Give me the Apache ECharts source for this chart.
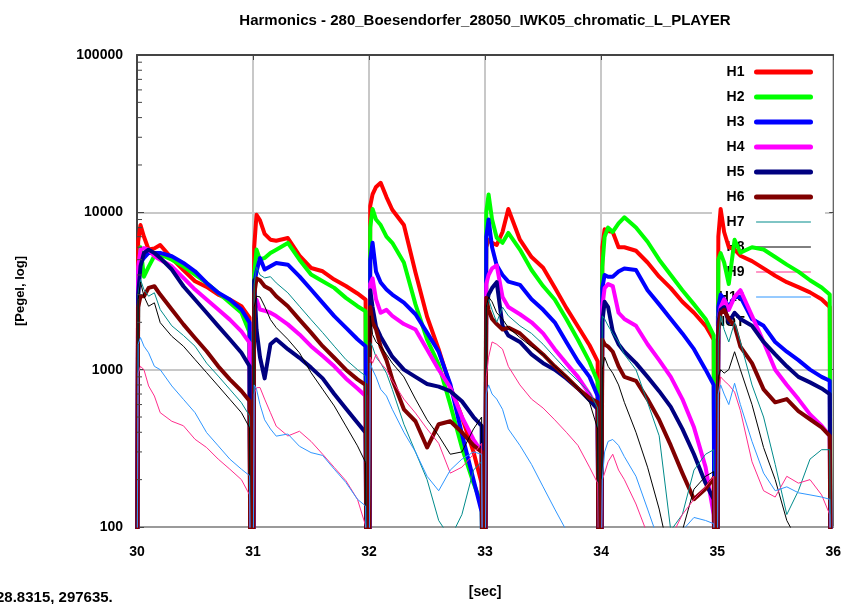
<!DOCTYPE html>
<html>
<head>
<meta charset="utf-8">
<script src="https://cdn.jsdelivr.net/npm/echarts/dist/echarts.min.js"></script>
<style>
  html, body { margin: 0; padding: 0; background: #ffffff; }
  #chart { width: 844px; height: 604px; }
</style>
</head>
<body>
<div id="chart"></div>
<script>
// Harmonic levels of six consecutive chromatic notes (one per second).
const chartTitle = 'Harmonics - 280_Boesendorfer_28050_IWK05_chromatic_L_PLAYER';
const cursorReadout = '28.8315, 297635.';
const noteStarts = [30, 31, 32, 33, 34, 35];
// sample times within each note, seconds after the note onset
const offsets = [0.01, 0.03, 0.06, 0.1, 0.15, 0.2, 0.3, 0.4, 0.5, 0.6, 0.7, 0.8, 0.9, 0.97];
const onsetOffset = 0.002;
const releaseOffset = 0.976;
const silenceLevel = 60;
const xTicks = [30, 31, 32, 33, 34, 35, 36];
const yTicks = [100, 1000, 10000, 100000];
const minorTickValues = [200, 300, 400, 500, 600, 700, 800, 900,
  2000, 3000, 4000, 5000, 6000, 7000, 8000, 9000,
  20000, 30000, 40000, 50000, 60000, 70000, 80000, 90000];

// one row per note, one value per offset
const h1 = [
  [6500, 8300, 7000, 5800, 5900, 6200, 5100, 4300, 3650, 3360, 3000, 2790, 2530, 2140],
  [6000, 9660, 8900, 7300, 6700, 6600, 6870, 5300, 4430, 4220, 3740, 3400, 3050, 2790],
  [11000, 13000, 14500, 15400, 12500, 10390, 8300, 4140, 2170, 1345, 780, 500, 300, 190],
  [6000, 6700, 6400, 6200, 7500, 10500, 6700, 5200, 4450, 3330, 2470, 1880, 1430, 1130],
  [6000, 7800, 7600, 7500, 6000, 6000, 5700, 4800, 3900, 3300, 2700, 2300, 1900, 1550],
  [7000, 10500, 7500, 6000, 5800, 5300, 4900, 4400, 3950, 3600, 3350, 3100, 2800, 2500]
];
const h2 = [
  [3500, 6000, 3900, 4500, 5300, 5400, 5000, 4540, 4020, 3560, 3080, 2660, 2300, 1720],
  [4000, 5800, 5000, 5130, 5520, 5790, 6390, 5000, 4020, 3650, 3310, 2860, 2530, 2350],
  [8000, 10500, 9000, 8300, 7000, 6400, 4800, 2600, 1550, 1080, 600, 320, 190, 140],
  [10000, 13000, 9000, 6900, 6400, 7400, 5800, 4300, 3400, 2790, 2100, 1550, 1120, 840],
  [4500, 7000, 8000, 7500, 8500, 9300, 8000, 6500, 5000, 4000, 3200, 2600, 2100, 1650],
  [5000, 5500, 4800, 3500, 6700, 5550, 6000, 5800, 5200, 4650, 4200, 3700, 3330, 3000]
];
const h3 = [
  [4200, 4770, 5130, 5520, 5520, 5520, 5260, 4770, 4220, 3560, 3080, 2790, 2410, 1990],
  [3500, 4200, 5130, 4330, 4540, 4770, 4650, 3920, 3230, 2660, 2190, 1850, 1560, 1410],
  [5000, 6400, 4200, 3580, 3230, 3000, 2670, 2250, 1720, 1300, 810, 390, 200, 125],
  [7000, 9000, 6000, 4600, 4000, 3630, 3460, 2800, 2400, 2000, 1500, 1130, 900, 680],
  [3300, 4000, 3900, 3900, 4200, 4400, 4300, 3200, 2600, 2100, 1700, 1350, 1000, 800],
  [2500, 3000, 2800, 2500, 2900, 2900, 2100, 1900, 1500, 1300, 1150, 1000, 900, 850]
];
const h4 = [
  [4500, 5790, 5930, 5790, 5260, 5000, 4540, 3830, 3230, 2790, 2410, 2080, 1750, 1480],
  [2500, 2790, 2410, 2370, 2300, 2190, 1940, 1675, 1410, 1220, 1050, 880, 760, 680],
  [3500, 3800, 2800, 2300, 2400, 2200, 1950, 1800, 1345, 1000, 770, 500, 360, 300],
  [3500, 4000, 4400, 4600, 2900, 2500, 2250, 2000, 1700, 1350, 1100, 900, 700, 560],
  [2500, 3300, 3500, 3400, 2300, 2100, 1900, 1450, 1150, 900, 650, 430, 240, 120],
  [2000, 2500, 2800, 2400, 2900, 3200, 2200, 1500, 1000, 800, 650, 520, 440, 380]
];
const h5 = [
  [3000, 4540, 5520, 5790, 5520, 5130, 4330, 3390, 2790, 2300, 1890, 1560, 1280, 1050],
  [3700, 1800, 1200, 880, 1450, 1560, 1350, 1190, 1030, 880, 700, 566, 460, 398],
  [3200, 2500, 1880, 1620, 1400, 1210, 1000, 900, 810, 780, 730, 630, 500, 440],
  [2500, 3000, 3300, 3600, 1900, 1650, 1500, 1250, 1100, 1000, 880, 760, 640, 560],
  [2000, 2700, 2500, 1750, 1450, 1300, 1100, 900, 730, 580, 420, 290, 190, 150],
  [2000, 2400, 2500, 2000, 2300, 2100, 1900, 1500, 1250, 1050, 900, 830, 760, 700]
];
const h6 = [
  [2500, 2930, 2930, 3310, 3390, 3000, 2410, 1940, 1590, 1310, 1050, 868, 732, 633],
  [3000, 3800, 3700, 3390, 3230, 2930, 2530, 2080, 1720, 1410, 1190, 1000, 868, 800],
  [2500, 2000, 1800, 1400, 1150, 870, 560, 470, 320, 450, 470, 400, 330, 300],
  [2870, 2400, 2100, 1950, 1800, 1850, 1700, 1450, 1250, 1050, 900, 760, 660, 620],
  [1550, 1450, 1400, 1300, 1050, 900, 850, 650, 480, 330, 220, 150, 175, 205],
  [1800, 2300, 2400, 2100, 1900, 1400, 1100, 750, 620, 650, 545, 484, 430, 380]
];
const h7 = [
  [3000, 3740, 3230, 2930, 3080, 2410, 1900, 1650, 1410, 1100, 911, 750, 617, 508],
  [3500, 4500, 4000, 3830, 3900, 3560, 3080, 2530, 2080, 1720, 1410, 1160, 1000, 911],
  [1500, 1400, 1200, 1100, 950, 750, 450, 300, 200, 110, 85, 120, 230, 260],
  [2500, 2800, 2400, 2000, 2500, 2200, 1900, 1700, 1450, 1200, 1000, 850, 720, 570],
  [2200, 2100, 1900, 1700, 1500, 1250, 1000, 620, 380, 95, 120, 230, 290, 310],
  [1500, 2200, 1800, 1500, 2000, 1500, 800, 500, 250, 120, 170, 270, 310, 310]
];
const h8 = [
  [2800, 3600, 2930, 2530, 2660, 1990, 1630, 1410, 1160, 957, 788, 648, 533, 428],
  [2500, 2930, 2900, 2530, 2080, 1850, 1560, 1280, 957, 750, 588, 439, 328, 257],
  [2200, 1670, 1500, 1400, 1250, 1100, 900, 650, 480, 380, 290, 300, 420, 500],
  [2500, 2900, 2700, 2300, 2100, 1850, 1600, 1400, 1250, 1050, 900, 760, 620, 420],
  [1000, 1200, 1050, 950, 800, 620, 400, 240, 130, 60, 95, 174, 210, 225],
  [900, 1000, 950, 1000, 1300, 1000, 600, 320, 200, 110, 80, 90, 80, 80]
];
const h9 = [
  [950, 1050, 1000, 788, 680, 533, 470, 440, 361, 320, 270, 233, 200, 160],
  [700, 768, 770, 650, 533, 437, 379, 406, 350, 290, 239, 197, 150, 102],
  [1200, 1100, 1250, 1100, 1000, 850, 650, 530, 420, 340, 220, 240, 290, 340],
  [900, 1200, 1500, 1450, 1350, 1050, 800, 650, 570, 480, 400, 330, 240, 190],
  [200, 220, 260, 290, 230, 200, 140, 90, 80, 85, 120, 150, 180, 210],
  [700, 900, 850, 800, 720, 550, 260, 170, 155, 210, 190, 200, 160, 120]
];
const h10 = [
  [1450, 1600, 1410, 1280, 1050, 1000, 788, 648, 533, 398, 328, 270, 233, 212],
  [800, 750, 600, 480, 420, 378, 390, 326, 297, 285, 233, 192, 150, 136],
  [1100, 1000, 900, 750, 680, 560, 400, 300, 210, 170, 230, 270, 300, 290],
  [700, 800, 700, 650, 560, 420, 330, 250, 180, 130, 95, 70, 60, 55],
  [200, 300, 350, 360, 330, 280, 210, 130, 80, 70, 95, 115, 110, 105],
  [700, 800, 700, 600, 820, 600, 350, 220, 170, 180, 165, 160, 155, 150]
];

const harmonicNames = ['H1', 'H2', 'H3', 'H4', 'H5', 'H6', 'H7', 'H8', 'H9', 'H10'];
const harmonicTracks = [h1, h2, h3, h4, h5, h6, h7, h8, h9, h10];
const harmonicColors = ['#ff0000', '#00ff00', '#0000ff', '#ff00ff', '#000080',
  '#800000', '#008b8b', '#000000', '#ff2d8c', '#2f96ff'];
const harmonicWidths = [4, 4, 4, 4, 4, 4, 1, 1, 1, 1];
const legendLineWidths = [5, 5, 5, 5, 5, 5, 1, 1, 1, 1];
const extraLegendName = 'NOT';

// each note: onset from silence, sampled decay, release back to silence
function buildTrack(notes) {
  const pts = [];
  notes.forEach(function (vals, i) {
    const s = noteStarts[i];
    pts.push([s + onsetOffset, silenceLevel]);
    vals.forEach(function (v, j) { pts.push([s + offsets[j], v]); });
    pts.push([s + releaseOffset, silenceLevel]);
  });
  return pts;
}

const font = "'Liberation Sans', Arial, sans-serif";
const chart = echarts.init(document.getElementById('chart'), null, { renderer: 'canvas' });

const series = harmonicNames.map(function (name, i) {
  return {
    name: name,
    type: 'line',
    xAxisIndex: 0,
    yAxisIndex: 0,
    data: buildTrack(harmonicTracks[i]),
    showSymbol: false,
    symbol: 'none',
    clip: true,
    z: 2,
    color: harmonicColors[i],
    lineStyle: { color: harmonicColors[i], width: harmonicWidths[i], join: 'round' }
  };
});

series.push({
  name: extraLegendName,
  type: 'line',
  data: [],
  symbol: 'none',
  color: '#ffffff',
  lineStyle: { width: 0, opacity: 0 }
});

// log-spaced minor ticks on the value axis
series.push({
  type: 'custom',
  xAxisIndex: 0,
  yAxisIndex: 0,
  silent: true,
  z: 3,
  data: minorTickValues.map(function (v) { return [xTicks[0], v]; }),
  renderItem: function (params, api) {
    const p = api.coord([api.value(0), api.value(1)]);
    return {
      type: 'line',
      shape: { x1: p[0], y1: p[1], x2: p[0] + 5, y2: p[1] },
      style: { stroke: '#444444', lineWidth: 1 }
    };
  }
});

const legendData = harmonicNames.map(function (name, i) {
  return {
    name: name,
    lineStyle: { color: harmonicColors[i], width: legendLineWidths[i], cap: 'round', opacity: 1 }
  };
}).concat([{ name: extraLegendName, lineStyle: { width: 0, opacity: 0 } }]);

chart.setOption({
  animation: false,
  backgroundColor: '#ffffff',
  title: {
    text: chartTitle,
    left: 480,
    top: 8,
    textAlign: 'center',
    textStyle: { fontFamily: font, fontSize: 15, fontWeight: 'bold', color: '#000000' }
  },
  grid: { left: 137, right: 8, top: 55, bottom: 76 },
  legend: {
    data: legendData,
    orient: 'vertical',
    right: 19,
    top: 56,
    align: 'right',
    itemWidth: 54,
    itemHeight: 14,
    itemGap: 11,
    padding: [9, 12, 6, 3],
    backgroundColor: '#ffffff',
    selectedMode: false,
    z: 1,
    itemStyle: { opacity: 0, borderWidth: 0 },
    textStyle: { fontFamily: font, fontSize: 14, fontWeight: 'bold', color: '#000000', padding: [0, 7, 0, 0] }
  },
  xAxis: [{
    type: 'value',
    min: xTicks[0],
    max: xTicks[xTicks.length - 1],
    interval: 1,
    position: 'bottom',
    name: '[sec]',
    nameLocation: 'middle',
    nameGap: 58,
    nameTextStyle: { fontFamily: font, fontSize: 14, fontWeight: 'bold', color: '#000000' },
    axisLine: { lineStyle: { color: '#9a9a9a', width: 2 } },
    axisTick: { show: false },
    axisLabel: { fontFamily: font, fontSize: 14, fontWeight: 'bold', color: '#000000', margin: 18 },
    splitLine: { show: true, lineStyle: { color: '#c8c8c8', width: 2 } }
  }, {
    type: 'value',
    min: xTicks[0],
    max: xTicks[xTicks.length - 1],
    interval: 1,
    position: 'top',
    axisLine: { lineStyle: { color: '#444444', width: 2 } },
    axisTick: { inside: true, length: 5, lineStyle: { color: '#444444' } },
    axisLabel: { show: false },
    splitLine: { show: false }
  }],
  yAxis: [{
    type: 'log',
    logBase: 10,
    min: yTicks[0],
    max: yTicks[yTicks.length - 1],
    position: 'left',
    name: '[Pegel, log]',
    nameLocation: 'middle',
    nameGap: 110,
    nameRotate: 90,
    nameTextStyle: { fontFamily: font, fontSize: 13, fontWeight: 'bold', color: '#000000' },
    axisLine: { show: true, lineStyle: { color: '#444444', width: 2 } },
    axisTick: { show: true, inside: true, length: 7, lineStyle: { color: '#444444' } },
    axisLabel: {
      fontFamily: font, fontSize: 14, fontWeight: 'bold', color: '#000000', margin: 14,
      formatter: function (v) { return String(Math.round(v)); }
    },
    splitLine: { show: true, lineStyle: { color: '#c8c8c8', width: 2 } }
  }, {
    type: 'log',
    logBase: 10,
    min: yTicks[0],
    max: yTicks[yTicks.length - 1],
    position: 'right',
    axisLine: { show: true, lineStyle: { color: '#666666', width: 1 } },
    axisTick: { show: true, inside: true, length: 4, lineStyle: { color: '#444444' } },
    axisLabel: { show: false },
    splitLine: { show: false }
  }],
  graphic: [{
    type: 'text',
    left: -4,
    top: 590,
    style: { text: cursorReadout, font: 'bold 15px ' + font, fill: '#000000' }
  }],
  series: series
});
</script>
</body>
</html>
